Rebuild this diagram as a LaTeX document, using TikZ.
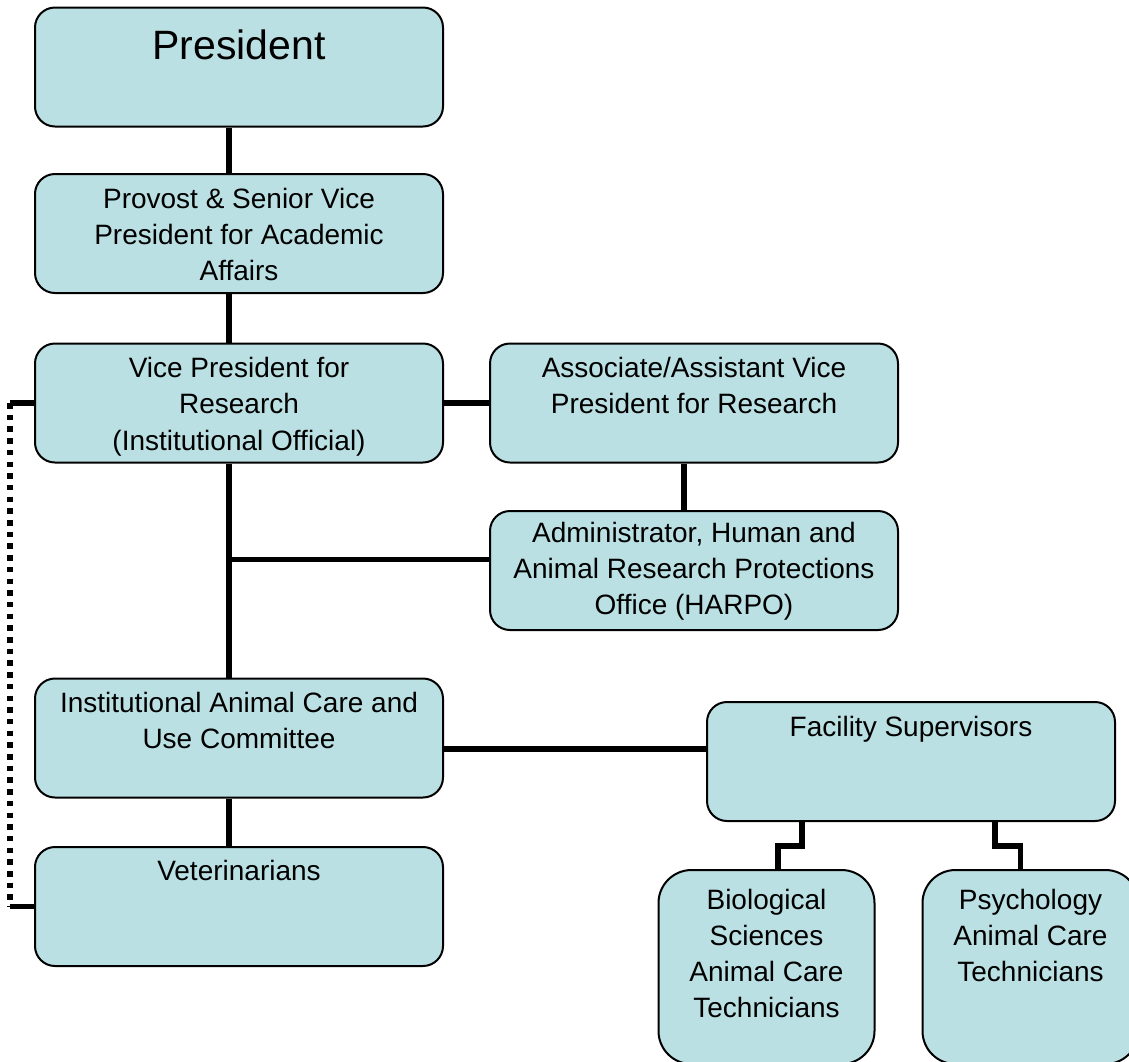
\documentclass[tikz,border=0pt]{standalone}
\usepackage{fontspec}
\setmainfont{Liberation Sans}
\usepackage{tikz}
\usetikzlibrary{positioning}
\definecolor{orgFill}{RGB}{186,224,227}

\begin{document}
\begin{tikzpicture}[x=1pt,y=-1pt,
  orgbox/.style={draw=black, line width=2pt, fill=orgFill, rounded corners=20pt,
    minimum width=408pt, minimum height=119pt, inner sep=0pt},
  techbox/.style={orgbox, rounded corners=33pt, minimum width=216pt, minimum height=194pt},
  boxtext/.style={inner sep=0pt, align=center, font=\fontsize{28}{36}\selectfont},
  link/.style={line width=5.5pt},
  dotlink/.style={line width=6pt, dash pattern=on 5.5pt off 6.2pt}]
\useasboundingbox (0,0) rectangle (1129,1061);
\clip (0,0) rectangle (1129,1061);

% boxes
\node[orgbox] (pres) at (239,67) {};
\node[orgbox] (prov) at (239,233.5) {};
\node[orgbox] (vpr) at (239,403) {};
\node[orgbox] (assoc) at (694,403) {};
\node[orgbox] (admin) at (694,570.5) {};
\node[orgbox] (iacuc) at (239,738) {};
\node[orgbox] (fs) at (911,761.5) {};
\node[orgbox] (vet) at (239,906.5) {};
\node[techbox] (bio) at (766.5,967) {};
\node[techbox] (psy) at (1030.5,967) {};

% texts
\node[boxtext, font=\fontsize{41}{46}\selectfont, below=23pt of pres.north] (presT) {President};
\node[boxtext, below=15pt of prov.north] (provT) {Provost \& Senior Vice\\President for Academic\\Affairs};
\node[boxtext, below=15pt of vpr.north] (vprT) {Vice President for\\Research\\(Institutional Official)};
\node[boxtext, below=15pt of assoc.north] (assocT) {Associate/Assistant Vice\\President for Research};
\node[boxtext, below=12pt of admin.north] (adminT) {Administrator, Human and\\Animal Research Protections\\Office (HARPO)};
\node[boxtext, below=14pt of iacuc.north] (iacucT) {Institutional Animal Care and\\Use Committee};
\node[boxtext, below=15pt of fs.north] (fsT) {Facility Supervisors};
\node[boxtext, below=14pt of vet.north] (vetT) {Veterinarians};
\node[boxtext, below=20pt of bio.north] (bioT) {Biological\\Sciences\\Animal Care\\Technicians};
\node[boxtext, below=20pt of psy.north] (psyT) {Psychology\\Animal Care\\Technicians};

% connectors
\coordinate (spine) at (229,0);
\draw[link] (pres.south -| spine) -- (prov.north -| spine);
\draw[link] (prov.south -| spine) -- (vpr.north -| spine);
\draw[link] (vpr.east) -- (assoc.west);
\draw[link] ([xshift=-10pt]assoc.south) -- ([xshift=-10pt]admin.north);
\draw[link] (vpr.south -| spine) -- (iacuc.north -| spine);
\draw[link] ([yshift=11pt]admin.west) -- ([yshift=11pt]admin.west -| spine);
\draw[link] ([yshift=-11pt]iacuc.east) -- ([yshift=-11pt]iacuc.east -| fs.west);
\draw[link] (iacuc.south -| spine) -- (vet.north -| spine);
\draw[link] ([xshift=-109pt]fs.south) -- ++(0,24) -| ([xshift=11.5pt]bio.north);
\draw[link] ([xshift=84pt]fs.south) -- ++(0,24) -| ([xshift=-10pt]psy.north);

% dotted line
\draw[link] (vpr.west) -- ++(-24,0) coordinate (dtop);
\draw[link] (vet.west) -- ++(-24,0) coordinate (dbot);
\draw[dotlink] (dtop) -- (dbot);
\end{tikzpicture}
\end{document}
